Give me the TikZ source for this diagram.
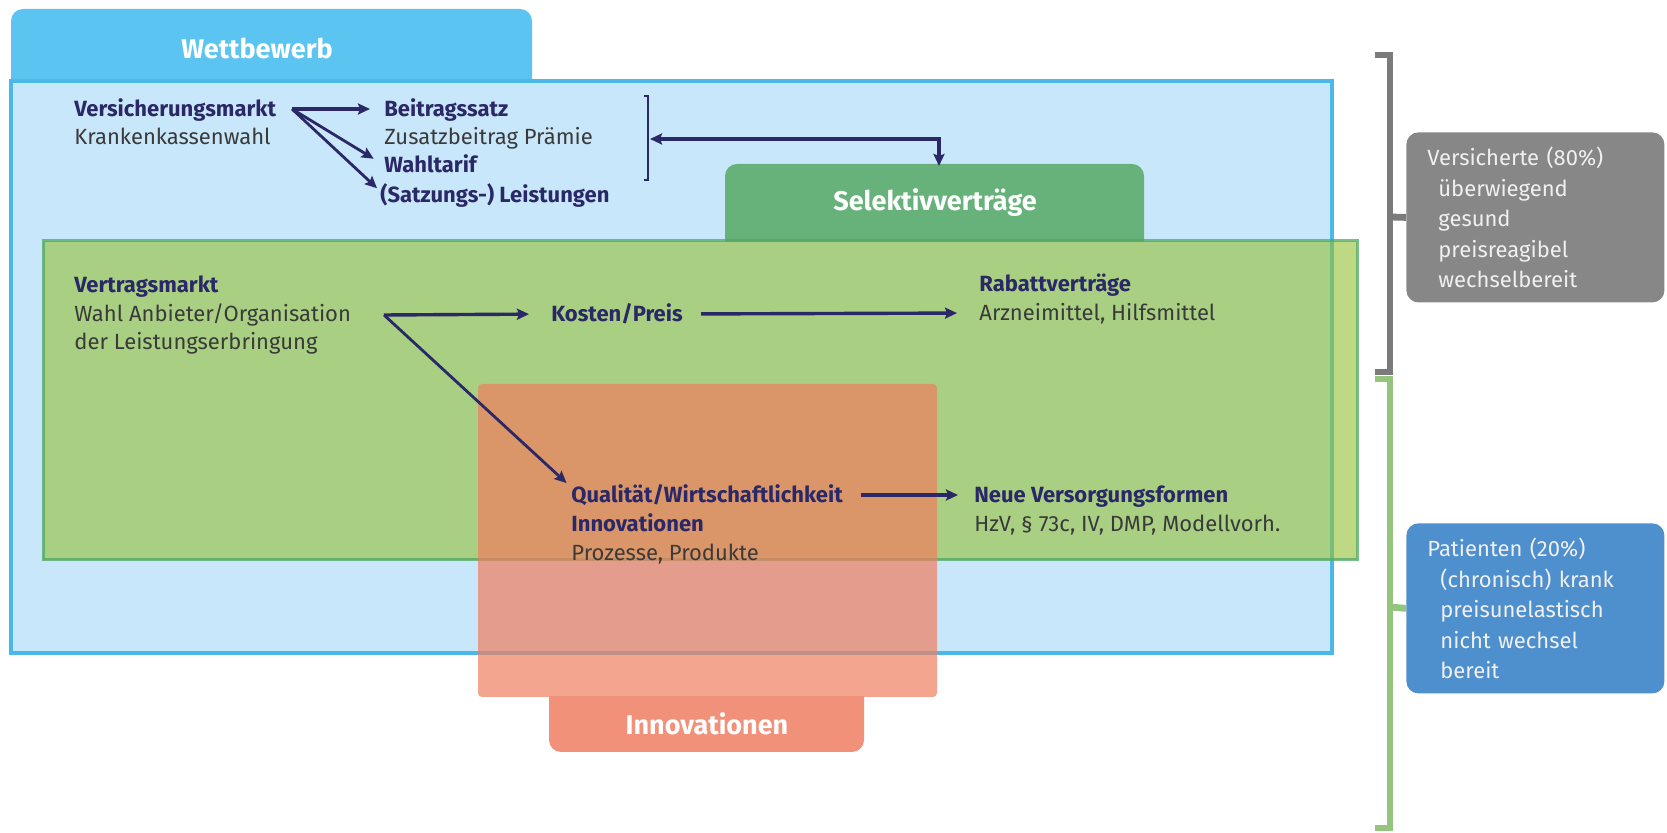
\documentclass[tikz,border=0pt]{standalone}
\usepackage{fontspec}
\setmainfont{Fira Sans}
\usetikzlibrary{arrows.meta}
\definecolor{wbTab}{HTML}{5BC4F1}
\definecolor{wbFill}{HTML}{C9E7FA}
\definecolor{wbLine}{HTML}{4CB8E8}
\definecolor{svFill}{HTML}{93BF32}
\definecolor{svLine}{HTML}{4FA862}
\definecolor{svTab}{HTML}{66B27A}
\definecolor{inFill}{HTML}{F07F5F}
\definecolor{inTab}{HTML}{F2917A}
\definecolor{navy}{HTML}{2A2866}
\definecolor{txt}{HTML}{3A3A3A}
\definecolor{grayBox}{HTML}{878787}
\definecolor{grayBr}{HTML}{7B7B7B}
\definecolor{blueBox}{HTML}{4E8FCD}
\definecolor{greenBr}{HTML}{95C47E}
\definecolor{sideText}{HTML}{F0F0F0}
\begin{document}
\begin{tikzpicture}[x=0.5pt,y=-0.5pt,
  hd/.style={font=\fontsize{11}{13}\selectfont\bfseries, text=navy, anchor=west,
    inner sep=0pt, text height=7.5pt, text depth=0pt},
  tx/.style={font=\fontsize{11}{13}\selectfont, text=txt, anchor=west,
    inner sep=0pt, text height=7.5pt, text depth=0pt},
  tabtitle/.style={font=\fontsize{13.5}{16}\selectfont\bfseries, text=white, inner sep=0pt},
  tip/.style={Stealth[length=6pt,width=5.5pt,inset=1pt]},
  arr/.style={navy, line width=1.7pt, -{Stealth[length=6pt,width=5.5pt,inset=1pt]}},
  thinarr/.style={navy, line width=1.4pt, -{Stealth[length=6pt,width=5.5pt,inset=1pt]}},
  arrboth/.style={navy, line width=1.6pt,
    {Stealth[length=6pt,width=5.5pt,inset=1pt]}-{Stealth[length=6pt,width=5.5pt,inset=1pt]}},
  sidebox/.style={anchor=north west, rounded corners=6pt, minimum width=129pt,
    minimum height=85pt, text width=108pt, inner xsep=10.5pt, align=left,
    font=\fontsize{11}{15.25}\selectfont, text=sideText},
  bracket/.style={line width=3.4pt},
]
\path[use as bounding box] (0,0) rectangle (1667,833);

% Wettbewerb: tab and frame
\fill[wbTab, rounded corners=6pt] (11,9) rectangle (532,110);
\draw[wbLine, fill=wbFill, line width=2pt] (11,81) rectangle (1332,653);

% Selektivvertraege tab
\begin{scope}
  \clip (0,0) rectangle (1667,242);
  \fill[svTab, rounded corners=6pt] (725,164) rectangle (1144,270);
\end{scope}

% Selektivvertraege area (translucent)
\fill[svFill, opacity=0.6] (43,241) rectangle (1357,560);
\draw[svLine, line width=1.5pt, opacity=0.75] (43,241) rectangle (1357,560);

% Innovationen area (translucent) and tab
\fill[inFill, opacity=0.7, rounded corners=2pt] (478,384) rectangle (937,697);
\begin{scope}
  \clip (0,697) rectangle (1667,833);
  \fill[inTab, rounded corners=6pt] (549,680) rectangle (864,752);
\end{scope}

% tab titles
\node[tabtitle] (wb) at (257,48) {Wettbewerb};
\node[tabtitle] (sv) at (935,203) {Selektivverträge};
\node[tabtitle] (inno) at (707,724) {Innovationen};

% Versicherungsmarkt
\node[hd] (vmkt) at (74,109) {Versicherungsmarkt};
\node[tx] (kkw) at (74,137) {Krankenkassenwahl};
\node[hd] (beitrag) at (384,109) {Beitragssatz};
\node[tx] (zusatz) at (384,137) {Zusatzbeitrag Prämie};
\node[hd] (wahl) at (384,165) {Wahltarif};
\node[hd] (leist) at (380,195) {(Satzungs-) Leistungen};

\coordinate (vmsrc) at (292,109);
\draw[arr, shorten >=7pt] (vmsrc) -- (beitrag.west);
\draw[thinarr, shorten >=6pt] (vmsrc) -- (wahl.west);
\draw[thinarr, shorten >=2pt] (vmsrc) -- ([yshift=2pt]leist.west);

% bracket around the tariff items and link to Selektivvertraege
\draw[navy, line width=0.6pt] (644,96) -- (648,96) -- (648,180) -- (644,180);
\coordinate (brk) at (650,139);
\coordinate (svtop) at (939,166);
\draw[arrboth] (brk) -| (svtop);

% Vertragsmarkt
\node[hd] (vtm) at (74,285) {Vertragsmarkt};
\node[tx] (anb) at (74,314) {Wahl Anbieter/Organisation};
\node[tx] (lerb) at (74,342) {der Leistungserbringung};
\node[hd] (kosten) at (551,314) {Kosten/Preis};
\node[hd] (rabatt) at (979,284) {Rabattverträge};
\node[tx] (arznei) at (979,313) {Arzneimittel, Hilfsmittel};

\coordinate (vtsrc) at (384,315);
\draw[arr, shorten >=11pt] (vtsrc) -- (kosten.west);
\draw[arr, shorten <=9pt, shorten >=11pt] (kosten.east) -- (arznei.west);

% Qualitaet / Innovationen
\node[hd] (qual) at (571,495) {Qualität/Wirtschaftlichkeit};
\node[hd] (innov) at (571,524) {Innovationen};
\node[tx] (proz) at (571,553) {Prozesse, Produkte};
\node[hd] (neue) at (974,495) {Neue Versorgungsformen};
\node[tx] (hzv) at (974,524) {HzV, § 73c, IV, DMP, Modellvorh.};

\draw[thinarr, shorten >=3pt] (vtsrc) -- (qual.north west);
\draw[arr, shorten <=9pt, shorten >=8pt] (qual.east) -- (neue.west);

% groups on the right
\node[sidebox, fill=grayBox] (vers) at (1406,132)
  {Versicherte (80\%)\\\hspace*{5.5pt}überwiegend\\\hspace*{5.5pt}gesund\\\hspace*{5.5pt}preisreagibel\\\hspace*{5.5pt}wechselbereit};
\node[sidebox, fill=blueBox] (pat) at (1406,523)
  {Patienten (20\%)\\\hspace*{6.5pt}(chronisch) krank\\\hspace*{6.5pt}preisunelastisch\\\hspace*{6.5pt}nicht wechsel\\\hspace*{6.5pt}bereit};

\draw[bracket, grayBr] (1375,55) -- (1390,55) -- (1390,372) -- (1375,372);
\draw[bracket, grayBr] (1390,217) -- (vers.west);
\draw[bracket, greenBr] (1375,379) -- (1390,379) -- (1390,828) -- (1375,828);
\draw[bracket, greenBr] (1390,607) -- (pat.west);
\end{tikzpicture}
\end{document}
